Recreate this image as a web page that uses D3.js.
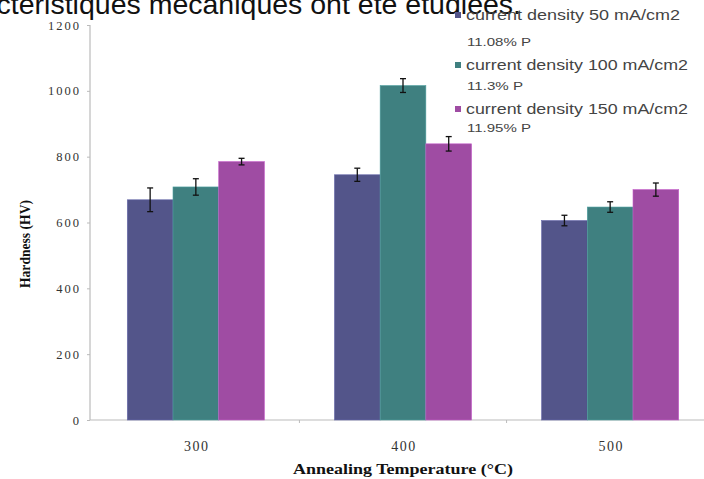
<!DOCTYPE html>
<html>
<head>
<meta charset="utf-8">
<script src="https://cdn.jsdelivr.net/npm/d3@7"></script>
<style>
  body { margin: 0; background: #fff; }
  svg { display: block; }
</style>
</head>
<body>
<div id="svg-container"></div>
<script>
// data
const temps = ["300", "400", "500"];
const seriesNames = ["current density 50 mA/cm2", "current density 100 mA/cm2", "current density 150 mA/cm2"];
const seriesSub = ["11.08% P", "11.3% P", "11.95% P"];
const cd50 = [669, 745, 606];
const cd100 = [708, 1016, 647];
const cd150 = [785, 839, 700];
const err50 = [36, 20, 16];
const err100 = [25, 21, 16];
const err150 = [10, 22, 20];
const yTicks = [0, 200, 400, 600, 800, 1000, 1200];
const colors = ["#53558a", "#3f8080", "#9f4ca3"];

const width = 704;
const height = 479;

const svg = d3.select("#svg-container").append("svg")
  .attr("width", width).attr("height", height);

// scales
const xScale = d3.scaleBand().domain(temps).range([90, 716])
  .paddingInner(0.338).paddingOuter(0.18);
const xSub = d3.scaleBand().domain([0, 1, 2]).range([0, xScale.bandwidth()]);
const yScale = d3.scaleLinear().domain([0, 1200]).range([420, 25]);

// caption text cut at the top (page text above the figure)
svg.append("text")
  .attr("x", 521).attr("y", 14)
  .attr("text-anchor", "end")
  .attr("font-family", "Liberation Sans, Arial, sans-serif")
  .attr("font-size", 28.5)
  .attr("fill", "#111")
  .text("caractéristiques mécaniques ont été étudiées.");

// y axis
const yAxis = d3.axisLeft(yScale).tickValues(yTicks).tickSize(3).tickPadding(6)
  .tickFormat(d3.format("d"));
svg.append("g")
  .attr("class", "y-axis")
  .attr("transform", "translate(90,0)")
  .call(yAxis)
  .call((g) => g.selectAll("line, path").attr("stroke", "#bbb"))
  .call((g) => g.select(".domain").attr("d", "M0,25V420").attr("stroke-width", 1.2))
  .call((g) => g.selectAll("text")
    .attr("font-family", "Liberation Serif, serif")
    .attr("font-size", 12.5)
    .attr("letter-spacing", 2)
    .attr("fill", "#333"));

// x axis
const series = [cd50, cd100, cd150];
const errs = [err50, err100, err150];

const xg = svg.append("g").attr("class", "x-axis");
xg.append("line")
  .attr("x1", 90).attr("x2", width)
  .attr("y1", yScale(0)).attr("y2", yScale(0))
  .attr("stroke", "#bbb").attr("stroke-width", 1.2);
// boundary ticks between groups
xg.selectAll(".xtick")
  .data(temps.slice(1))
  .enter()
  .append("line")
  .attr("class", "xtick")
  .attr("x1", (d) => xScale(d) - xScale.step() * xScale.paddingInner() / 2)
  .attr("x2", (d) => xScale(d) - xScale.step() * xScale.paddingInner() / 2)
  .attr("y1", yScale(0)).attr("y2", yScale(0) + 3)
  .attr("stroke", "#bbb");
xg.selectAll(".xlabel")
  .data(temps)
  .enter()
  .append("text")
  .attr("class", "xlabel")
  .attr("x", (d) => xScale(d) + xScale.bandwidth() / 2 + 1)
  .attr("y", 451)
  .attr("text-anchor", "middle")
  .attr("font-family", "Liberation Serif, serif")
  .attr("font-size", 14)
  .attr("letter-spacing", 1.5)
  .attr("fill", "#333")
  .text((d) => d);

// bars
series.forEach((vals, si) => {
  svg.selectAll(`.bar-${si}`)
    .data(temps)
    .enter()
    .append("rect")
    .attr("class", `bar-${si}`)
    .attr("x", (d) => xScale(d) + xSub(si))
    .attr("y", (d, i) => yScale(vals[i]))
    .attr("width", xSub.bandwidth())
    .attr("height", (d, i) => yScale(0) - yScale(vals[i]))
    .attr("fill", colors[si])
    .attr("stroke", d3.color(colors[si]).brighter(0.6))
    .attr("stroke-width", 0.6);
});

// error bars
series.forEach((vals, si) => {
  const g = svg.append("g").attr("class", `err-${si}`);
  temps.forEach((t, i) => {
    const cx = xScale(t) + xSub(si) + xSub.bandwidth() / 2;
    const top = yScale(vals[i] + errs[si][i]);
    const bot = yScale(vals[i] - errs[si][i]);
    g.append("line").attr("x1", cx).attr("x2", cx).attr("y1", top).attr("y2", bot)
      .attr("stroke", "#111").attr("stroke-width", 1.3);
    [top, bot].forEach((y) => {
      g.append("line").attr("x1", cx - 3).attr("x2", cx + 3).attr("y1", y).attr("y2", y)
        .attr("stroke", "#111").attr("stroke-width", 1.3);
    });
  });
});

// axis titles
svg.append("text")
  .attr("x", xScale("400") + xScale.bandwidth() / 2)
  .attr("y", 474)
  .attr("text-anchor", "middle")
  .attr("font-family", "Liberation Serif, serif")
  .attr("font-weight", "bold")
  .attr("font-size", 15)
  .attr("textLength", 220)
  .attr("lengthAdjust", "spacingAndGlyphs")
  .attr("fill", "#111")
  .text("Annealing Temperature (°C)");

svg.append("text")
  .attr("transform", "translate(30,244) rotate(-90)")
  .attr("text-anchor", "middle")
  .attr("font-family", "Liberation Serif, serif")
  .attr("font-weight", "bold")
  .attr("font-size", 15)
  .attr("textLength", 88)
  .attr("lengthAdjust", "spacingAndGlyphs")
  .attr("fill", "#111")
  .text("Hardness (HV)");

// legend
const legendY = [15, 65, 109];
const subY = [42, 86, 128];
const nameLen = [214, 222, 222];
const subLen = [64, 56, 64];
const legend = svg.append("g").attr("class", "legend");
seriesNames.forEach((name, i) => {
  legend.append("rect")
    .attr("x", 455).attr("y", legendY[i] - 3)
    .attr("width", 6).attr("height", 6)
    .attr("fill", colors[i]);
  legend.append("text")
    .attr("x", 466).attr("y", legendY[i] + 5)
    .attr("font-family", "Liberation Sans, Arial, sans-serif")
    .attr("font-size", 14)
    .attr("textLength", nameLen[i])
    .attr("lengthAdjust", "spacingAndGlyphs")
    .attr("fill", "#444")
    .text(name);
  legend.append("text")
    .attr("x", 467).attr("y", subY[i] + 4)
    .attr("font-family", "Liberation Sans, Arial, sans-serif")
    .attr("font-size", 11)
    .attr("textLength", subLen[i])
    .attr("lengthAdjust", "spacingAndGlyphs")
    .attr("fill", "#444")
    .text(seriesSub[i]);
});
</script>
</body>
</html>
